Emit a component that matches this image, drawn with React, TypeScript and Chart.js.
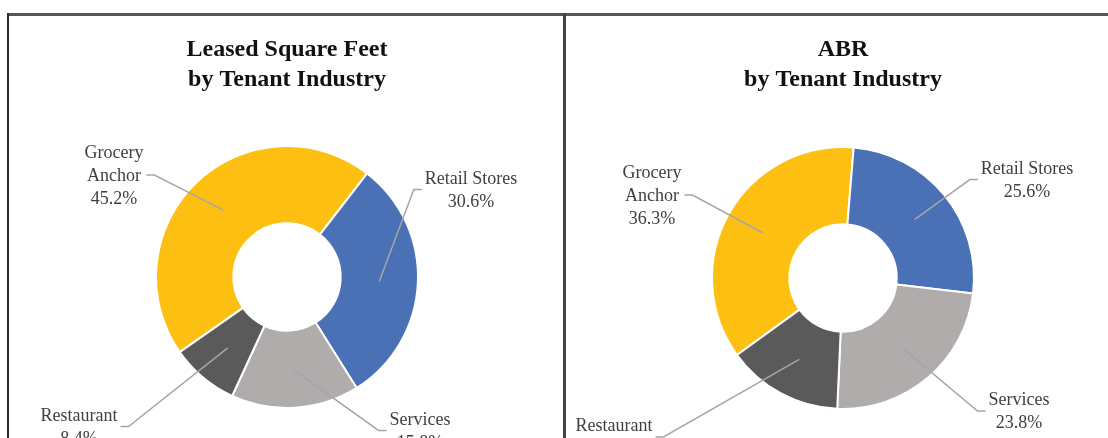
import React, { useEffect, useRef } from "react";
import { Chart, registerables } from "chart.js";

Chart.register(...registerables);

// ---- data ----
const categories: (string | string[])[] = [["Grocery", "Anchor"], "Retail Stores", "Services", "Restaurant"];
const leasedSqFtShare = [45.2, 30.6, 15.8, 8.4];
const abrShare = [36.3, 25.6, 23.8, 14.3];
const titleLeft = ["Leased Square Feet", "by Tenant Industry"];
const titleRight = ["ABR", "by Tenant Industry"];

// ---- styles ----
const colors = ["#FDBF12", "#4A71B6", "#AFACAB", "#5A5A5A"];
const FONT = "'Liberation Serif', 'Times New Roman', serif";

// label placement relative to donut centre, in units of outer radius
const leftLabelOffsets = [
  [-1.321, -0.771],
  [1.405, -0.66],
  [1.015, 1.179],
  [-1.588, 1.149],
];
const rightLabelOffsets = [
  [-1.458, -0.626],
  [1.405, -0.744],
  [1.344, 1.023],
  [-1.748, 1.221],
];

const leaderLabels = {
  id: "leaderLabels",
  afterDraw(chart: any, _args: any, opts: any) {
    const ctx = chart.ctx;
    const meta = chart.getDatasetMeta(0);
    const data = chart.data.datasets[0].data as number[];
    const labels = chart.data.labels as (string | string[])[];
    const offsets = opts.offsets as number[][];
    const lh = 23;
    ctx.save();
    ctx.font = `18px ${FONT}`;
    meta.data.forEach((arc: any, i: number) => {
      const p = arc.getProps(["x", "y", "startAngle", "endAngle", "innerRadius", "outerRadius"], true);
      const mid = (p.startAngle + p.endAngle) / 2;
      const rMid = (p.innerRadius + p.outerRadius) / 2;
      const sx = p.x + Math.cos(mid) * rMid;
      const sy = p.y + Math.sin(mid) * rMid;
      const lx = p.x + offsets[i][0] * p.outerRadius;
      const ly = p.y + offsets[i][1] * p.outerRadius;
      const name = labels[i];
      const lines = (Array.isArray(name) ? name : [name]).concat([`${data[i].toFixed(1)}%`]);
      const maxW = Math.max(...lines.map((l) => ctx.measureText(l).width));
      const leftSide = lx < p.x;
      const edge = leftSide ? lx + maxW / 2 : lx - maxW / 2;
      const dir = leftSide ? 1 : -1;
      const hy = ly - 1;
      ctx.strokeStyle = "#A6A6A6";
      ctx.lineWidth = 1.5;
      ctx.beginPath();
      ctx.moveTo(edge + dir * 3, hy);
      ctx.lineTo(edge + dir * 11, hy);
      ctx.lineTo(sx, sy);
      ctx.stroke();
      ctx.fillStyle = "#404040";
      ctx.textAlign = "center";
      ctx.textBaseline = "middle";
      const top = ly - ((lines.length - 1) * lh) / 2;
      lines.forEach((l, j) => ctx.fillText(l, lx, top + j * lh));
    });
    ctx.restore();
  },
};

function Donut(props: {
  values: number[];
  title: string[];
  rotation: number;
  offsets: number[][];
  width: number;
  height: number;
  padding: { left: number; right: number; bottom: number };
  titlePad: { top: number; bottom: number };
  style: React.CSSProperties;
}) {
  const ref = useRef<HTMLCanvasElement | null>(null);
  useEffect(() => {
    if (!ref.current) return;
    const chart = new Chart(ref.current, {
      type: "doughnut",
      data: {
        labels: categories,
        datasets: [
          {
            data: props.values,
            backgroundColor: colors,
            borderColor: "#ffffff",
            borderWidth: 2,
          },
        ],
      },
      options: {
        responsive: false,
        animation: false,
        devicePixelRatio: 1,
        rotation: props.rotation,
        cutout: "41%",
        layout: { padding: { top: 0, ...props.padding } },
        plugins: {
          legend: { display: false },
          tooltip: { enabled: false },
          title: {
            display: true,
            text: props.title,
            color: "#111111",
            font: { family: FONT, size: 24, weight: "bold", lineHeight: 1.25 },
            padding: props.titlePad,
          },
          leaderLabels: { offsets: props.offsets },
        } as any,
      },
      plugins: [leaderLabels],
    });
    return () => chart.destroy();
  }, []);
  return <canvas ref={ref} width={props.width} height={props.height} style={props.style} />;
}

export default function App() {
  return (
    <div
      style={{
        position: "fixed",
        left: 0,
        top: 0,
        width: 1108,
        height: 438,
        overflow: "hidden",
        background: "#ffffff",
      }}
    >
      <Donut
        values={leasedSqFtShare}
        title={titleLeft}
        rotation={-125}
        offsets={leftLabelOffsets}
        width={554}
        height={422}
        padding={{ left: 146, right: 144, bottom: 29 }}
        titlePad={{ top: 19, bottom: 50 }}
        style={{ position: "absolute", left: 9, top: 16, width: 554, height: 422 }}
      />
      <Donut
        values={abrShare}
        title={titleRight}
        rotation={-126}
        offsets={rightLabelOffsets}
        width={553}
        height={422}
        padding={{ left: 145, right: 144, bottom: 28 }}
        titlePad={{ top: 19, bottom: 51 }}
        style={{ position: "absolute", left: 566, top: 16, width: 553, height: 422 }}
      />
      <div style={{ position: "absolute", left: 7, top: 13, width: 1101, height: 3, background: "#555555" }} />
      <div style={{ position: "absolute", left: 7, top: 13, width: 2, height: 425, background: "#2a2a2a" }} />
      <div style={{ position: "absolute", left: 563, top: 13, width: 3, height: 425, background: "#444444" }} />
    </div>
  );
}
